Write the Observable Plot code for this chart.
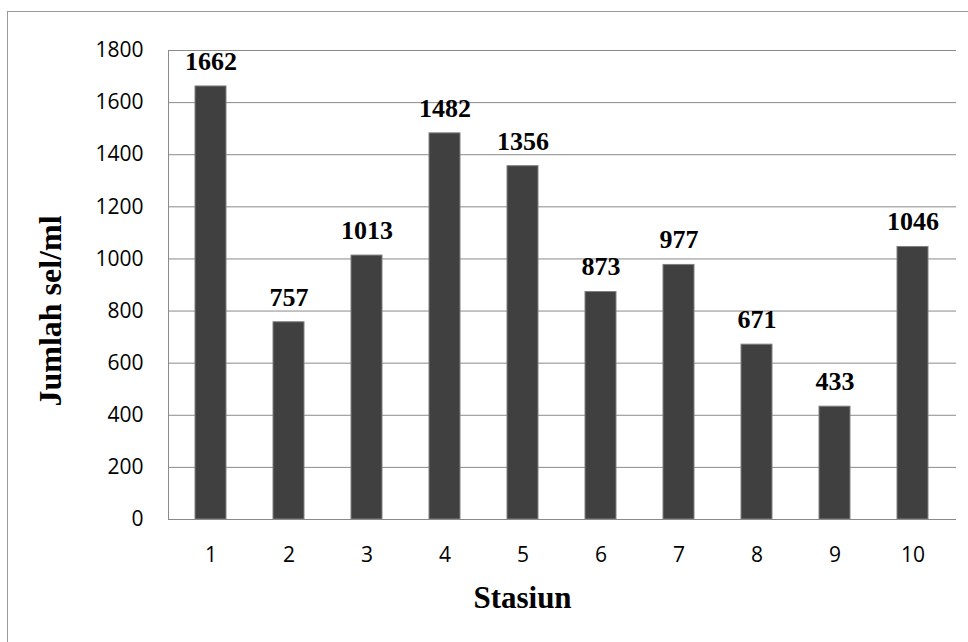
<!DOCTYPE html>
<html>
<head>
<meta charset="utf-8">
<script src="https://cdn.jsdelivr.net/npm/d3@7"></script>
<script src="https://cdn.jsdelivr.net/npm/@observablehq/plot@0.6"></script>
<style>
  html, body { margin: 0; padding: 0; background: #fff; }
  #wrap { position: relative; width: 968px; height: 642px; overflow: hidden; }
  #frame { position: absolute; left: 7px; top: 11px; width: 1000px; height: 700px; border: 1px solid #9a9a9a; box-sizing: border-box; }
  #chart { position: absolute; left: 0; top: 0; }
</style>
</head>
<body>
<div id="wrap"><div id="frame"></div><div id="chart"></div></div>
<script>
const stations = ["1","2","3","4","5","6","7","8","9","10"];
const cells = [1662, 757, 1013, 1482, 1356, 873, 977, 671, 433, 1046];
const yTicks = [0, 200, 400, 600, 800, 1000, 1200, 1400, 1600, 1800];
const xLabel = "Stasiun";
const yLabel = "Jumlah sel/ml";

const data = stations.map((s, i) => ({station: s, value: cells[i]}));
const serif = "'Liberation Serif', 'Times New Roman', serif";

const chart = Plot.plot({
  width: 968,
  height: 642,
  marginLeft: 168,
  marginRight: 12,
  marginTop: 50,
  marginBottom: 123,
  style: {background: "transparent", fontFamily: "'Open Sans', sans-serif", fontSize: "21px", color: "#000"},
  x: {domain: stations, paddingInner: 0.6, paddingOuter: 0.3, label: null},
  y: {domain: [0, 1800], label: null},
  marks: [
    Plot.gridY(yTicks, {stroke: "#8a8a8a", strokeOpacity: 1, strokeWidth: 1}),
    Plot.frame({anchor: "left", stroke: "#8a8a8a"}),
    Plot.barY(data, {x: "station", y: "value", fill: "#404040", stroke: "#808080", strokeWidth: 1}),
    Plot.ruleY([0], {stroke: "#8a8a8a"}),
    Plot.axisY(yTicks, {tickSize: 0, tickPadding: 25, fontSize: 21, fill: "#000", tickFormat: d => String(d), label: null}),
    Plot.axisX({tickSize: 0, tickPadding: 28, fontSize: 21, fill: "#000", label: null}),
    Plot.text(data, {x: "station", y: "value", text: d => String(d.value), lineAnchor: "middle", dy: -25, fontFamily: serif, fontWeight: "bold", fontSize: 26, fill: "#000"}),
    Plot.text([xLabel], {frameAnchor: "bottom", textAnchor: "middle", lineAnchor: "middle", dx: -40, dy: 79, text: d => d, fontFamily: serif, fontWeight: "bold", fontSize: 31, fill: "#000"}),
    Plot.text([yLabel], {frameAnchor: "left", textAnchor: "middle", lineAnchor: "middle", dx: -118, dy: 26, rotate: -90, text: d => d, fontFamily: serif, fontWeight: "bold", fontSize: 32, fill: "#000"})
  ]
});
document.getElementById("chart").appendChild(chart);
</script>
</body>
</html>
